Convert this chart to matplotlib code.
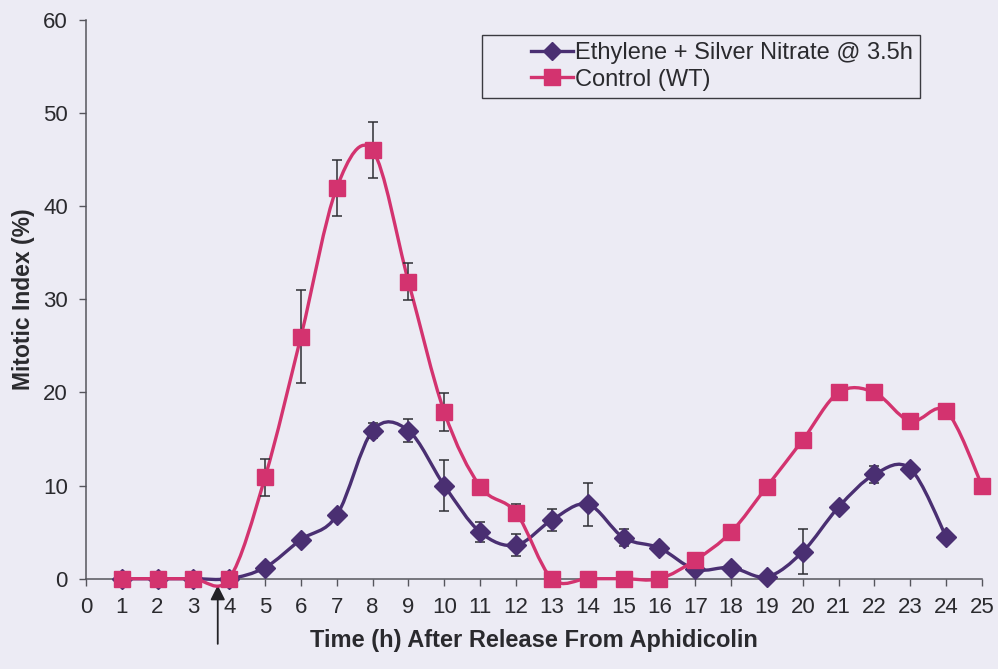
"""
Mitotic index after release from aphidicolin: ethylene + silver nitrate vs control.
Excel-style smoothed lines with error bars.
"""

import matplotlib
matplotlib.use("Agg")
import matplotlib.pyplot as plt
from matplotlib.path import Path
from matplotlib.patches import PathPatch
from matplotlib.lines import Line2D
from matplotlib.legend_handler import HandlerLine2D
import numpy as np

# ── Palette ──
BG_COLOR   = "#ECEBF4"
TEXT_DARK  = "#2A2A2E"
AXIS_COLOR = "#55555C"
ETH_COLOR  = "#4A2F72"
WT_COLOR   = "#D3336F"
ERR_COLOR  = "#2E2E33"
FONT = ["Liberation Sans", "DejaVu Sans"]

# ── Data ──
eth_hours = [1, 2, 3, 4, 5, 6, 7, 8, 9, 10, 11, 12, 13, 14, 15, 16, 17, 18, 19, 20, 21, 22, 23, 24]
eth_index = [0, 0, 0, 0, 1.2, 4.2, 6.8, 15.9, 15.9, 10.0, 5.0, 3.6, 6.3, 8.0, 4.4, 3.3, 1.0, 1.2, 0.2, 2.9, 7.7, 11.2, 11.8, 4.5]
eth_err   = [0, 0, 0, 0, 0, 0, 0, 0.8, 1.2, 2.7, 1.1, 1.2, 1.2, 2.3, 0.9, 0, 0, 0, 0, 2.4, 0, 0.9, 0.3, 0]

wt_hours = [1, 2, 3, 4, 5, 6, 7, 8, 9, 10, 11, 12, 13, 14, 15, 16, 17, 18, 19, 20, 21, 22, 23, 24, 25]
wt_index = [0, 0, 0, 0, 10.9, 26.0, 42.0, 46.0, 31.9, 17.9, 9.9, 7.1, 0, 0, 0, 0, 2.0, 5.0, 9.9, 14.9, 20.0, 20.0, 16.9, 18.0, 10.0]
wt_err   = [0, 0, 0, 0, 2.0, 5.0, 3.0, 3.0, 2.0, 2.0, 0, 0.9, 0, 0, 0, 0, 0, 0, 0, 0, 0, 0.8, 0, 0, 0]

x_ticks = list(range(0, 26))
y_ticks = [0, 10, 20, 30, 40, 50, 60]
arrow_hour = 3.68

plt.rcParams["font.family"] = FONT


def smooth_path(xs, ys):
    """Excel-like smoothed line: cubic Bezier segments, Catmull-Rom tangents."""
    pts = np.column_stack([xs, ys]).astype(float)
    n = len(pts)
    verts = [pts[0]]
    codes = [Path.MOVETO]
    for i in range(n - 1):
        p0 = pts[max(i - 1, 0)]
        p1 = pts[i]
        p2 = pts[i + 1]
        p3 = pts[min(i + 2, n - 1)]
        c1 = p1 + (p2 - p0) / 6.0
        c2 = p2 - (p3 - p1) / 6.0
        verts += [c1, c2, p2]
        codes += [Path.CURVE4] * 3
    return Path(verts, codes)


class ShiftedHandler(HandlerLine2D):
    """Draw the legend key only in the right half of the handle box (Excel look)."""
    def create_artists(self, legend, orig_handle, xdescent, ydescent,
                       width, height, fontsize, trans):
        shift = width * 0.5
        return super().create_artists(legend, orig_handle, xdescent - shift,
                                      ydescent, width - shift, height,
                                      fontsize, trans)


fig = plt.figure(figsize=(9.98, 6.69), dpi=100)
fig.patch.set_facecolor(BG_COLOR)
ax = fig.add_axes([0.086, 0.135, 0.898, 0.835])
ax.set_facecolor(BG_COLOR)

for xs, ys, err, color, marker, ms, z in [
    (eth_hours, eth_index, eth_err, ETH_COLOR, "D", 10, 3),
    (wt_hours, wt_index, wt_err, WT_COLOR, "s", 12, 5),
]:
    ax.add_patch(PathPatch(smooth_path(xs, ys), facecolor="none", edgecolor=color,
                           linewidth=2.4, zorder=z, clip_on=False))
    e = np.array(err)
    mask = e > 0
    ax.errorbar(np.array(xs)[mask], np.array(ys)[mask], yerr=e[mask], fmt="none",
                ecolor=ERR_COLOR, elinewidth=1.1, capsize=3.5, capthick=1.1,
                zorder=z + 1)
    ax.plot(xs, ys, linestyle="none", marker=marker, markersize=ms,
            color=color, markeredgecolor=color, zorder=z + 1, clip_on=False)

# legend
h_eth = Line2D([], [], color=ETH_COLOR, marker="D", markersize=9, linewidth=2.4)
h_wt = Line2D([], [], color=WT_COLOR, marker="s", markersize=11, linewidth=2.4)
leg = ax.legend([h_eth, h_wt], ["Ethylene + Silver Nitrate @ 3.5h", "Control (WT)"],
                loc="upper left", bbox_to_anchor=(0.483, 0.948),
                bbox_transform=fig.transFigure, fontsize=17,
                frameon=True, fancybox=False, edgecolor="#3A3A40",
                facecolor=BG_COLOR, framealpha=1, borderpad=0.3,
                handlelength=3.55, handletextpad=0.08, labelspacing=0.2,
                borderaxespad=0,
                handler_map={Line2D: ShiftedHandler()})
leg.get_frame().set_linewidth(1.0)
for t in leg.get_texts():
    t.set_color(TEXT_DARK)

# arrow marking silver nitrate addition
ax.annotate("", xy=(arrow_hour, -0.4), xytext=(arrow_hour, -7.3),
            annotation_clip=False,
            arrowprops=dict(arrowstyle="-|>", color="#222226", lw=1.3,
                            mutation_scale=22))

ax.set_xlim(0, 25)
ax.set_ylim(0, 60)
ax.set_xticks(x_ticks)
ax.set_yticks(y_ticks)
ax.tick_params(axis="both", direction="out", length=5, width=1,
               color=AXIS_COLOR, labelsize=16, labelcolor=TEXT_DARK)
ax.tick_params(axis="x", pad=8)
ax.tick_params(axis="y", pad=8)

for s in ["top", "right"]:
    ax.spines[s].set_visible(False)
for s in ["left", "bottom"]:
    ax.spines[s].set_color(AXIS_COLOR)
    ax.spines[s].set_linewidth(1.1)

ax.set_xlabel("Time (h) After Release From Aphidicolin", fontsize=17,
              fontweight="bold", color=TEXT_DARK, labelpad=8)
ax.set_ylabel("Mitotic Index (%)", fontsize=16.5, fontweight="bold",
              color=TEXT_DARK, labelpad=6)

fig.savefig("out.png", dpi=100, facecolor=fig.get_facecolor())
